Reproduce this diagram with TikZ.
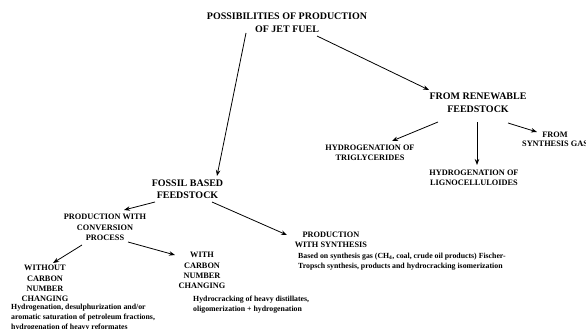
\documentclass[tikz,border=0pt]{standalone}
\usepackage{fontspec}
\setmainfont{Liberation Serif}
\usetikzlibrary{arrows.meta,calc}
\tikzset{
  big/.style={inner sep=0pt,align=center,font=\bfseries\fontsize{10}{12.5}\selectfont},
  mid/.style={inner sep=0pt,align=center,font=\bfseries\fontsize{8.3}{10.3}\selectfont},
  desc/.style={inner sep=0pt,align=left,font=\bfseries\fontsize{7.8}{10}\selectfont},
  arr/.style={line width=0.8pt,-{Stealth[length=6pt,width=4.5pt]}}
}
\begin{document}
\begin{tikzpicture}[x=1pt,y=-1pt]
\useasboundingbox (0,0) rectangle (586,329);
\node[big] (T) at (287,22.5) {POSSIBILITIES OF PRODUCTION\\OF JET FUEL};
\node[big] (R) at (478,102.5) {FROM RENEWABLE\\FEEDSTOCK};
\node[big] (F) at (187.5,189) {FOSSIL BASED\\FEEDSTOCK};
\node[mid] (G) at (370,153) {HYDROGENATION OF\\TRIGLYCERIDES};
\node[mid] (L) at (474,178) {HYDROGENATION OF\\LIGNOCELLULOIDES};
\node[mid,font=\bfseries\fontsize{8.3}{9}\selectfont] (S) at (555,139.5) {FROM\\SYNTHESIS GAS};
\node[mid] (C) at (105,227.5) {PRODUCTION WITH\\CONVERSION\\PROCESS};
\node[mid] (W) at (45,283.5) {WITHOUT\\CARBON\\NUMBER\\CHANGING};
\node[mid] (K) at (202,270.5) {WITH\\CARBON\\NUMBER\\CHANGING};
\node[mid,font=\bfseries\fontsize{8.3}{10}\selectfont] (Y) at (331,239.5) {PRODUCTION\\WITH SYNTHESIS};
\node[desc,anchor=north west] (WD) at (11,304) {Hydrogenation, desulphurization and/or\\aromatic saturation of petroleum fractions,\\hydrogenation of heavy reformates};
\node[desc,anchor=north west] (KD) at (193,295.5) {Hydrocracking of heavy distillates,\\oligomerization + hydrogenation};
\node[desc,anchor=north west] (YD) at (298,252.5) {Based on synthesis gas (CH\textsubscript{4}, coal, crude oil products) Fischer-\\Tropsch synthesis, products and hydrocracking isomerization};
\draw[arr] ($(T.center)+(-41,10.5)$) -- ($(F.center)+(29.5,-13)$);
\draw[arr] ($(T.center)+(30,13.5)$) -- ($(R.center)+(-49,-12.5)$);
\draw[arr] ($(R.center)+(-40,19.5)$) -- ($(G.center)+(22,-12)$);
\draw[arr] ($(R.center)+(-1,19.5)$) -- ($(L.center)+(3,-13)$);
\draw[arr] ($(R.center)+(30,20.5)$) -- ($(S.center)+(-18,-7.5)$);
\draw[arr] ($(F.center)+(-32.5,13)$) -- ($(C.center)+(19,-17.5)$);
\draw[arr] ($(F.center)+(24.5,13)$) -- ($(Y.center)+(-44,-4.5)$);
\draw[arr] ($(C.center)+(-23,17.5)$) -- ($(W.center)+(8,-20.5)$);
\draw[arr] ($(C.center)+(23,14.5)$) -- ($(K.center)+(-27,-15.5)$);
\end{tikzpicture}
\end{document}
